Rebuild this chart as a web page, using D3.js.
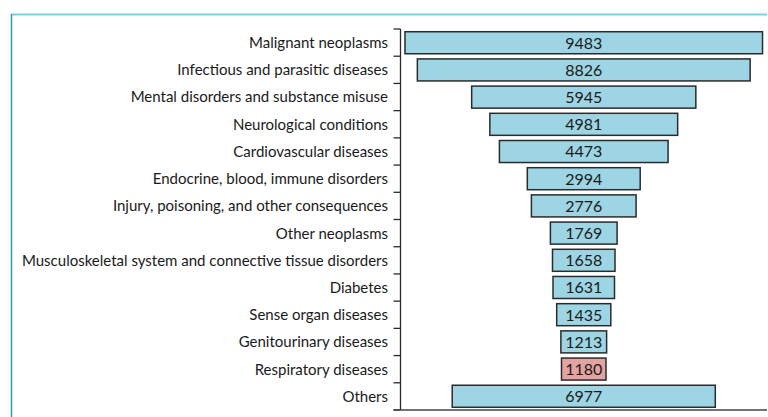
<!DOCTYPE html>
<html><head><meta charset="utf-8">
<script src="https://cdn.jsdelivr.net/npm/d3@7"></script>
<style>html,body{margin:0;padding:0;background:#fff;}svg{display:block;}</style>
</head><body>
<script>
const categories = [
  "Malignant neoplasms",
  "Infectious and parasitic diseases",
  "Mental disorders and substance misuse",
  "Neurological conditions",
  "Cardiovascular diseases",
  "Endocrine, blood, immune disorders",
  "Injury, poisoning, and other consequences",
  "Other neoplasms",
  "Musculoskeletal system and connective tissue disorders",
  "Diabetes",
  "Sense organ diseases",
  "Genitourinary diseases",
  "Respiratory diseases",
  "Others"
];
const values = [9483, 8826, 5945, 4981, 4473, 2994, 2776, 1769, 1658, 1631, 1435, 1213, 1180, 6977];
const highlight = ["Respiratory diseases"];

const W = 768, H = 417;
const svg = d3.select("body").append("svg").attr("width", W).attr("height", H);

// frame
svg.append("line").attr("x1", 11).attr("x2", 767).attr("y1", 14.5).attr("y2", 14.5)
  .attr("stroke", "#7fcfe2").attr("stroke-width", 2);
svg.append("line").attr("x1", 11.5).attr("x2", 11.5).attr("y1", 14).attr("y2", H)
  .attr("stroke", "#2a9cc4").attr("stroke-width", 1.5);

const pLeft = 400.5, pRight = 767, pTop = 29, pBottom = 410;
const y = d3.scaleBand().domain(categories).range([pTop, pBottom]).paddingInner(0.19).paddingOuter(0.1);
const yTicks = d3.scaleBand().domain(categories).range([pTop, pBottom]);
const maxV = d3.max(values);
const half = maxV * 1.025 / 2;
const x = d3.scaleLinear().domain([-half, half]).range([pLeft, pRight]);

const data = categories.map((c, i) => ({c, v: values[i]}));

// bars
svg.append("g").selectAll("rect").data(data).join("rect")
  .attr("x", d => x(-d.v / 2))
  .attr("width", d => x(d.v / 2) - x(-d.v / 2))
  .attr("y", d => y(d.c))
  .attr("height", y.bandwidth())
  .attr("fill", d => highlight.includes(d.c) ? "#e3a3a1" : "#9dd5e5")
  .attr("stroke", "#2b2b2b").attr("stroke-width", 1.5);

svg.append("g").selectAll("text").data(data).join("text")
  .attr("x", d => x(0))
  .attr("y", d => y(d.c) + y.bandwidth() / 2)
  .attr("dy", "0.37em")
  .attr("text-anchor", "middle")
  .attr("font-family", "Lato, sans-serif").attr("font-size", 16)
  .attr("fill", "#1a1a1a")
  .text(d => d.v);

// y axis line + ticks at band boundaries
const ax = svg.append("g").attr("stroke", "#2a2a2a").attr("stroke-width", 1.3);
ax.append("line").attr("x1", pLeft).attr("x2", pLeft).attr("y1", pTop).attr("y2", pBottom);
const bounds = categories.map(c => yTicks(c)).concat([pBottom]);
ax.selectAll("line.t").data(bounds).join("line").attr("class", "t")
  .attr("x1", pLeft - 7).attr("x2", pLeft).attr("y1", d => d).attr("y2", d => d);
svg.append("line").attr("x1", pLeft - 7).attr("x2", pRight).attr("y1", pBottom).attr("y2", pBottom)
  .attr("stroke", "#444").attr("stroke-width", 1.5);

// category labels
svg.append("g").selectAll("text").data(categories).join("text")
  .attr("x", 388)
  .attr("y", d => yTicks(d) + yTicks.bandwidth() / 2)
  .attr("dy", "0.36em")
  .attr("text-anchor", "end")
  .attr("font-family", "Lato, sans-serif").attr("font-size", 15)
  .attr("fill", "#1a1a1a")
  .text(d => d);
</script>
</body></html>
